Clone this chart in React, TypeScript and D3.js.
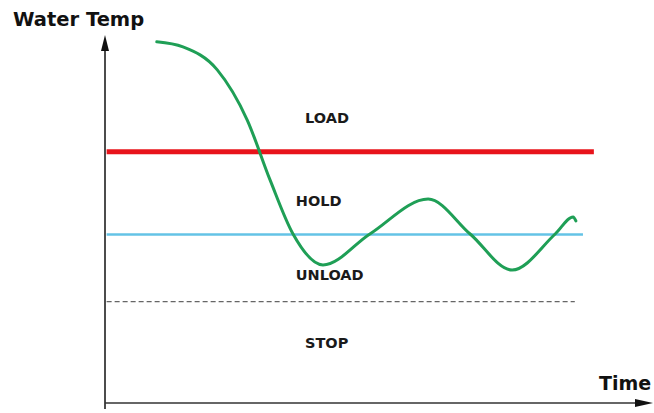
import React from "react";
import * as d3 from "d3";

const W = 654;
const H = 413;

// Water temperature curve (time units 0-100, temp units 0-100)
const curveTime = [9.5, 14.3, 20.6, 26.1, 30.3, 34.5, 40.0, 48.6, 59.3, 67.0, 74.7, 82.6, 85.9, 86.4];
const curveTemp = [99.5, 98.1, 91.8, 78.0, 61.5, 46.7, 38.2, 46.7, 56.3, 46.7, 36.8, 46.7, 51.4, 50.3];

// Threshold lines
const thresholdNames = ["load", "hold", "stop"];
const thresholdValues = [69.3, 46.6, 28.1];
const thresholdEnds = [89.7, 87.7, 86.2];

// Region labels
const regionLabels = ["LOAD", "HOLD", "UNLOAD", "STOP"];

const axisTitleY = "Water Temp";
const axisTitleX = "Time";

export default function App() {
  const x = d3.scaleLinear().domain([0, 100]).range([105, 650]);
  const y = d3.scaleLinear().domain([0, 100]).range([404, 40]);

  const pts: [number, number][] = curveTime.map((t, i) => [t, curveTemp[i]]);
  const line = d3
    .line<[number, number]>()
    .x((d) => x(d[0]))
    .y((d) => y(d[1]))
    .curve(d3.curveMonotoneX);

  const lineStyles: Record<string, any> = {
    load: { stroke: "#e8141b", strokeWidth: 5 },
    hold: { stroke: "#64c3e6", strokeWidth: 2.5 },
    stop: { stroke: "#666", strokeWidth: 1.3, strokeDasharray: "5,3" },
  };

  const labelX = [x(36.7), x(35.0), x(35.0), x(36.7)];
  const labelY = [123, 206, 280, 348];

  const font = "'DejaVu Sans', Verdana, sans-serif";

  return (
    <svg
      width={W}
      height={H}
      style={{ position: "absolute", left: 0, top: 0, background: "#fff" }}
    >
      <rect x={0} y={0} width={W} height={H} fill="#fff" />
      {thresholdNames.map((n, i) => (
        <line
          key={n}
          x1={x(0.3)}
          x2={x(thresholdEnds[i])}
          y1={y(thresholdValues[i])}
          y2={y(thresholdValues[i])}
          {...lineStyles[n]}
        />
      ))}
      <path
        d={line(pts) || ""}
        fill="none"
        stroke="#1f9f56"
        strokeWidth={3}
        strokeLinecap="round"
        strokeLinejoin="round"
      />
      <line x1={105} x2={105} y1={409} y2={48} stroke="#111" strokeWidth={1.5} />
      <path d="M105,35 L101,51 L109,51 Z" fill="#111" />
      <line x1={105} x2={638} y1={403} y2={403} stroke="#333" strokeWidth={1.5} />
      <path d="M653,403 L635,399 L635,407 Z" fill="#111" />
      <text x={13} y={26} fontFamily={font} fontWeight="bold" fontSize={19.5} fill="#111">
        {axisTitleY}
      </text>
      <text x={599} y={390} fontFamily={font} fontWeight="bold" fontSize={19} fill="#111">
        {axisTitleX}
      </text>
      {regionLabels.map((l, i) => (
        <text
          key={l}
          x={labelX[i]}
          y={labelY[i]}
          fontFamily={font}
          fontWeight="bold"
          fontSize={14.5}
          fill="#1a1a1a"
        >
          {l}
        </text>
      ))}
    </svg>
  );
}
